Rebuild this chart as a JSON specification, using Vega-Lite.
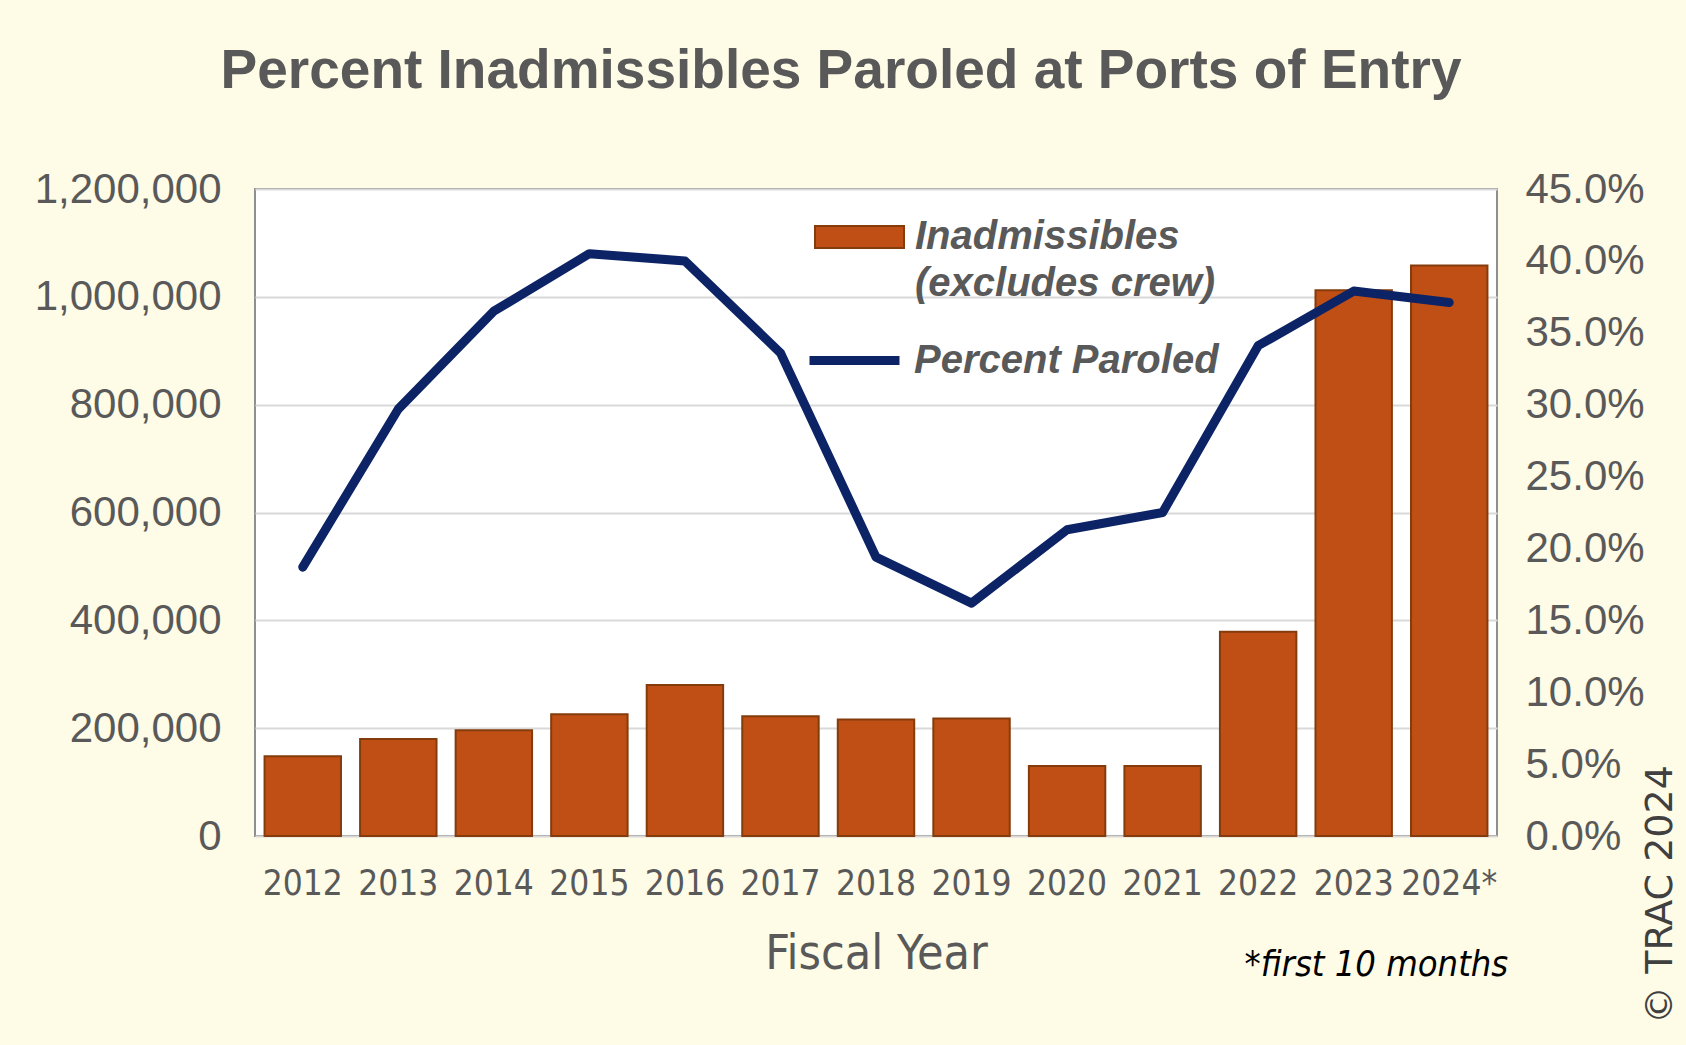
{
  "$schema": "https://vega.github.io/schema/vega-lite/v6.json",
  "width": 1242,
  "height": 647,
  "autosize": {"type": "none"},
  "padding": {"left": 255, "top": 189, "right": 189, "bottom": 209},
  "background": "#FEFBE7",
  "title": {
    "text": "Percent Inadmissibles Paroled at Ports of Entry",
    "font": "Liberation Sans",
    "fontSize": 55,
    "fontWeight": "bold",
    "color": "#595959",
    "anchor": "middle",
    "frame": "group",
    "offset": 68,
    "dx": -35
  },
  "config": {
    "view": {"fill": "white", "stroke": "#8F8F8F", "strokeWidth": 2},
    "style": {"guide-label": {"lineHeight": 47}}
  },
  "data": {
    "values": [
      {"year": "2012", "count": 148000, "pct": 0.187},
      {"year": "2013", "count": 180000, "pct": 0.297},
      {"year": "2014", "count": 196000, "pct": 0.365},
      {"year": "2015", "count": 226000, "pct": 0.405},
      {"year": "2016", "count": 280000, "pct": 0.400},
      {"year": "2017", "count": 222000, "pct": 0.336},
      {"year": "2018", "count": 216000, "pct": 0.194},
      {"year": "2019", "count": 218000, "pct": 0.162},
      {"year": "2020", "count": 130000, "pct": 0.213},
      {"year": "2021", "count": 130000, "pct": 0.225},
      {"year": "2022", "count": 379000, "pct": 0.341},
      {"year": "2023", "count": 1012000, "pct": 0.379},
      {"year": "2024*", "count": 1058000, "pct": 0.371}
    ]
  },
  "encoding": {
    "x": {
      "field": "year",
      "type": "nominal",
      "sort": null,
      "scale": {"paddingInner": 0.2, "paddingOuter": 0.1},
      "axis": {
        "title": "Fiscal Year",
        "labelAngle": 0,
        "ticks": false,
        "domain": false,
        "grid": false,
        "labelPadding": 30,
        "labelFont": "DejaVu Sans Condensed, Liberation Sans, sans-serif",
        "labelFontSize": 35,
        "labelColor": "#595959",
        "titleFont": "DejaVu Sans Condensed, Liberation Sans, sans-serif",
        "titleFontSize": 48,
        "titleFontWeight": "normal",
        "titleColor": "#595959",
        "titleY": 94,
        "titleBaseline": "top"
      }
    }
  },
  "layer": [
    {
      "mark": {"type": "bar", "stroke": "#843C0C", "strokeWidth": 2},
      "encoding": {
        "y": {
          "field": "count",
          "type": "quantitative",
          "scale": {"domain": [0, 1200000]},
          "axis": {
            "title": null,
            "orient": "left",
            "values": [0, 200000, 400000, 600000, 800000, 1000000, 1200000],
            "format": ",d",
            "ticks": false,
            "domain": false,
            "labelPadding": 34,
            "labelLimit": 0,
            "labelFont": "Liberation Sans",
            "labelFontSize": 42,
            "labelColor": "#595959",
            "grid": true,
            "gridColor": "#D9D9D9",
            "gridWidth": 2
          }
        },
        "fill": {
          "datum": "Inadmissibles",
          "scale": {"range": ["#C04F15"]},
          "legend": {
            "orient": "none",
            "legendX": 550,
            "legendY": 28,
            "title": null,
            "padding": 0,
            "symbolType": "M-1,-1.1H7.9V1.1H-1Z",
            "symbolSize": 400,
            "symbolStrokeColor": "#843C0C",
            "symbolStrokeWidth": 2,
            "symbolOpacity": 1,
            "labelExpr": "['Inadmissibles', '(excludes crew)']",
            "labelFont": "Liberation Sans",
            "labelFontSize": 40,
            "labelFontWeight": "bold",
            "labelFontStyle": "italic",
            "labelColor": "#595959",
            "labelOffset": 70,
            "labelLimit": 0
          }
        }
      }
    },
    {
      "layer": [
        {
          "mark": {"type": "line", "strokeWidth": 9, "strokeCap": "round", "strokeJoin": "round"},
          "encoding": {
            "y": {
              "field": "pct",
              "type": "quantitative",
              "scale": {"domain": [0, 0.45]},
              "axis": {
                "title": "© TRAC 2024",
                "orient": "right",
                "values": [0, 0.05, 0.1, 0.15, 0.2, 0.25, 0.3, 0.35, 0.4, 0.45],
                "format": ".1%",
                "ticks": false,
                "domain": false,
                "grid": false,
                "labelPadding": 28,
                "labelLimit": 0,
                "labelFont": "Liberation Sans",
                "labelFontSize": 42,
                "labelColor": "#595959",
                "titleFont": "DejaVu Sans, Liberation Sans, sans-serif",
                "titleFontSize": 38,
                "titleFontWeight": "normal",
                "titleColor": "#404040",
                "titleAngle": 270,
                "titleX": 163,
                "titleY": 705,
                "titleAlign": "center",
                "titleBaseline": "middle"
              }
            },
            "stroke": {
              "datum": "Percent Paroled",
              "scale": {"range": ["#0C2366"]},
              "legend": {
                "orient": "none",
                "legendX": 550,
                "legendY": 122,
                "title": null,
                "padding": 0,
                "symbolType": "stroke",
                "symbolSize": 8100,
                "symbolStrokeWidth": 9,
                "labelFont": "Liberation Sans",
                "labelFontSize": 40,
                "labelFontWeight": "bold",
                "labelFontStyle": "italic",
                "labelColor": "#595959",
                "labelOffset": 10,
                "labelLimit": 0
              }
            }
          }
        },
        {
          "data": {"values": [{"note": "*first 10 months"}]},
          "mark": {
            "type": "text",
            "align": "right",
            "baseline": "middle",
            "dx": 59,
            "font": "DejaVu Sans Condensed, Liberation Sans, sans-serif",
            "fontSize": 36,
            "fontStyle": "italic",
            "color": "#000000",
            "clip": false
          },
          "encoding": {
            "x": {"datum": "2024*"},
            "y": {"datum": -0.09},
            "text": {"field": "note"}
          }
        }
      ]
    }
  ],
  "resolve": {"scale": {"y": "independent"}}
}
